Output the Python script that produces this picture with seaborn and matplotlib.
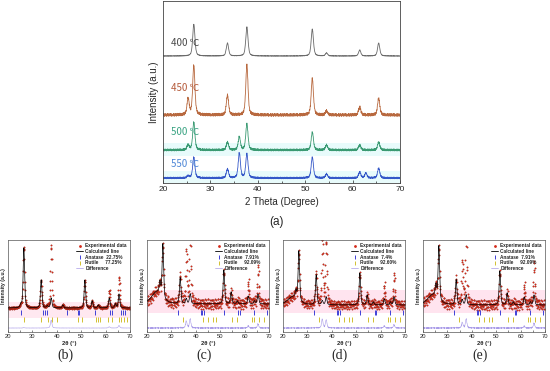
import numpy as np
import matplotlib
matplotlib.use("Agg")
import matplotlib.pyplot as plt
import seaborn as sns
from matplotlib.lines import Line2D

# ---------------- panel (a): XRD patterns at four temperatures ----------------
temps = ['400 ℃', '450 ℃', '500 ℃', '550 ℃']
peak_pos = [25.3, 26.5, 33.6, 36.1, 37.7, 51.5, 54.5, 61.5, 62.8, 65.5]
h400 = [0, 32, 13, 0, 29, 27, 3, 6, 0, 13]
h450 = [16, 50, 20, 0, 50, 37, 4, 8, 0, 17]
h500 = [5, 28, 8, 13, 26, 18, 5, 5, 0, 8]
h550 = [2, 21, 9, 25, 24, 21, 4, 6, 5, 10]
base_a = [127, 68, 33, 5]
noise_a = [0.3, 1.6, 1.2, 1.0]

# ---------------- panels (b)-(e): Rietveld refinement ----------------
ref_pos = [24.0, 25.3, 26.5, 33.6, 36.1, 37.7, 42.5, 51.5, 54.5, 57.0, 61.5, 64.0, 65.5]
ref_fwhm = [5.0, 0.7, 0.7, 0.7, 0.7, 0.7, 0.7, 0.7, 0.7, 0.7, 0.7, 0.7, 0.7]
calc_b = [0, 3, 60, 28, 2, 10, 3, 28, 7, 3, 10, 4, 14]
extra_b = [0, 0, 2, 0, 0, 53, 0, 0, 0, 0, 8, 0, 17]
calc_c = [12, 12, 54, 26, 5, 10, 0, 34, 12, 3, 8, 3, 10]
extra_c = [0, 0, 0, 3, 47, 62, 0, 0, 0, 0, 14, 0, 27]
calc_d = [8, 8, 50, 30, 4, 8, 0, 32, 10, 3, 6, 3, 8]
extra_d = [0, 0, 0, 2, 60, 55, 0, 0, 0, 0, 14, 0, 22]
calc_e = [10, 12, 54, 25, 5, 10, 0, 34, 12, 3, 8, 3, 10]
extra_e = [0, 0, 0, 2, 37, 62, 0, 0, 0, 0, 12, 0, 32]
base_ref = [24, 28, 27, 27]
noise_ref = [1.0, 6.0, 5.0, 6.0]
anatase_pct = ['22.75%', '7.91%', '7.4%', '7.91%']
rutile_pct = ['77.25%', '92.09%', '92.60%', '92.09%']
anatase_b = [25.3, 34.3, 35.0, 36.0, 44.0, 48.5, 49.2, 55.8, 61.7, 62.6, 66.5, 67.2, 67.9]
rutile_b = [26.7, 33.6, 36.4, 38.0, 40.0, 48.5, 50.3, 56.1, 57.0, 57.9, 61.0, 62.8, 65.5, 66.5, 67.5, 68.6]
anatase_ce = [32.9, 42.0, 42.6, 43.3, 51.7, 57.5, 58.3, 64.0, 69.0]
rutile_ce = [34.6, 42.9, 45.0, 47.0, 48.3, 55.0, 56.7, 63.0, 64.0, 66.0, 68.0]

# hand-read scatter of the measured points around the fit (tiled along 2theta)
jitter = [0.3, -0.8, 0.5, 0.9, -0.2, -0.6, 0.7, -0.9, 0.1, 0.4, -0.5, 0.8, -0.3, -0.7,
          0.6, 0.2, -0.9, 0.5, -0.1, 0.9, -0.4, 0.3, -0.6, 0.7, -0.8, 0.0, 0.6, -0.2,
          0.4, -0.7, 0.9, -0.5, 0.2, -0.3, 0.8, -0.9, 0.1, 0.5, -0.6, 0.3, -0.1]


def profile(x, pos, heights, fwhm):
    y = np.zeros_like(x)
    for p, h, w in zip(pos, heights, fwhm):
        g = np.exp(-4 * np.log(2) * ((x - p) / w) ** 2)
        l = 1 / (1 + 4 * ((x - p) / w) ** 2)
        y += h * (0.5 * g + 0.5 * l)
    return y


sns.set_style("ticks")
plt.rcParams['font.family'] = ['Liberation Sans', 'DejaVu Sans']
plt.rcParams['axes.linewidth'] = 0.6

W, H = 550, 371
fig = plt.figure(figsize=(W / 100, H / 100), dpi=100)


def px_axes(l, r, t, b):
    return fig.add_axes([l / W, (H - b) / H, (r - l) / W, (b - t) / H])


# ---------------- top panel ----------------
ax = px_axes(163, 400, 1, 183)
x = np.arange(20, 70.001, 0.05)
jit = np.resize(np.array(jitter), x.size)
colors_a = ['#6a6a6a', '#b8693f', '#3a9a72', '#3558c8']
label_cols = ['#4a4a4a', '#b55a3a', '#3aa382', '#4d86d6']
label_y = [140, 95, 51, 19]
ax.axhspan(27, 40, color='#e8fbfb', zorder=0, lw=0)
ax.axhspan(0, 12, color='#e8fbfb', zorder=0, lw=0)
for i, hs in enumerate([h400, h450, h500, h550]):
    y = base_a[i] + profile(x, peak_pos, hs, [0.55] * len(peak_pos)) + noise_a[i] * jit
    sns.lineplot(x=x, y=y, ax=ax, color=colors_a[i], linewidth=0.6, errorbar=None)
    ax.text(21.7, label_y[i], temps[i], color=label_cols[i], fontsize=7, va='center',
            family=['Noto Sans CJK SC', 'DejaVu Sans'])
ax.set_xlim(20, 70)
ax.set_ylim(0, 182)
ax.set_xticks([20, 30, 40, 50, 60, 70])
ax.set_xticks([25, 35, 45, 55, 65], minor=True)
ax.set_yticks([])
ax.tick_params(axis='x', which='both', direction='in', labelsize=6, pad=2, length=2.5, width=0.5)
ax.tick_params(axis='x', which='minor', length=1.5)
ax.set_xlabel('2 Theta (Degree)', fontsize=7, labelpad=3)
ax.set_ylabel('Intensity (a.u.)', fontsize=7, labelpad=3)
for s in ax.spines.values():
    s.set_visible(True)
    s.set_color('#444444')
fig.text(276 / W, (H - 222) / H, '(a)', fontsize=8.5, ha='center', va='center')

# ---------------- refinement panels ----------------
xr = np.arange(20, 70.001, 0.1)
jr = np.resize(np.array(jitter), xr.size)
jr2 = np.resize(np.array(jitter[::-1]), xr.size)
lefts = [8, 147, 283, 423]
tags = ['(b)', '(c)', '(d)', '(e)']
calcs = [calc_b, calc_c, calc_d, calc_e]
extras = [extra_b, extra_c, extra_d, extra_e]
ticks_a = [anatase_b, anatase_ce, anatase_ce, anatase_ce]
ticks_r = [rutile_b, rutile_ce, rutile_ce, rutile_ce]
red = '#d42a1a'
blue = '#4040d8'
yellow = '#d2c030'
purple = '#a99be8'
for k in range(4):
    l = lefts[k]
    ax = px_axes(l, l + 122, 240, 332)
    calc = base_ref[k] + profile(xr, ref_pos, calcs[k], ref_fwhm)
    exp = calc + profile(xr, ref_pos, extras[k], ref_fwhm) + noise_ref[k] * (0.6 * jr + 0.4 * jr2)
    diff = 4 + 0.15 * (exp - calc)
    if k == 0:
        ax.axhspan(14, 30, color='#ffe8f0', zorder=0, lw=0)
    else:
        ax.axhspan(19, 42, color='#ffe4ef', zorder=0, lw=0)
    sns.scatterplot(x=xr, y=exp, ax=ax, color=red, s=1.3, edgecolor='#7a2010',
                    linewidth=0.15, zorder=2)
    sns.lineplot(x=xr, y=calc, ax=ax, color='black', linewidth=0.5, errorbar=None, zorder=3)
    sns.lineplot(x=xr, y=diff, ax=ax, color=purple, linewidth=0.4, errorbar=None)
    ax.vlines(ticks_a[k], 17.5, 22.5, color=blue, linewidth=0.7)
    ax.vlines(ticks_r[k], 10.5, 15.5, color=yellow, linewidth=0.7)
    ax.set_xlim(20, 70)
    ax.set_ylim(0, 92)
    ax.set_xticks([20, 30, 40, 50, 60, 70])
    ax.set_xticks([25, 35, 45, 55, 65], minor=True)
    ax.set_yticks([])
    ax.tick_params(axis='x', which='both', direction='in', labelsize=4.2, pad=1.5,
                   length=1.5, width=0.4)
    ax.set_xlabel('2θ (°)', fontsize=4.2, labelpad=1.5, fontweight='bold')
    ax.set_ylabel('Intensity (a.u.)', fontsize=3.8, labelpad=1.5, fontweight='bold')
    for s in ax.spines.values():
        s.set_visible(True)
        s.set_linewidth(0.5)
        s.set_color('#555555')
    handles = [
        Line2D([], [], marker='o', ls='', color=red, ms=1.0),
        Line2D([], [], color='black', lw=0.6),
        Line2D([], [], marker='|', ls='', color=blue, ms=3, mew=0.7),
        Line2D([], [], marker='|', ls='', color=yellow, ms=3, mew=0.7),
        Line2D([], [], color=purple, lw=0.5),
    ]
    names = ['Experimental data', 'Calculated line', 'Anatase  ' + anatase_pct[k],
             'Rutile     ' + rutile_pct[k], 'Difference']
    ax.legend(handles, names, loc='upper right', frameon=False,
              handlelength=1.4, labelspacing=0.15, borderaxespad=0.3,
              handletextpad=0.5, prop={'weight': 'bold', 'size': 3.4})
    fig.text((l + 57) / W, (H - 355) / H, tags[k], fontsize=10, ha='center', va='center',
             family='Liberation Serif')

fig.savefig('out.png', dpi=100)
